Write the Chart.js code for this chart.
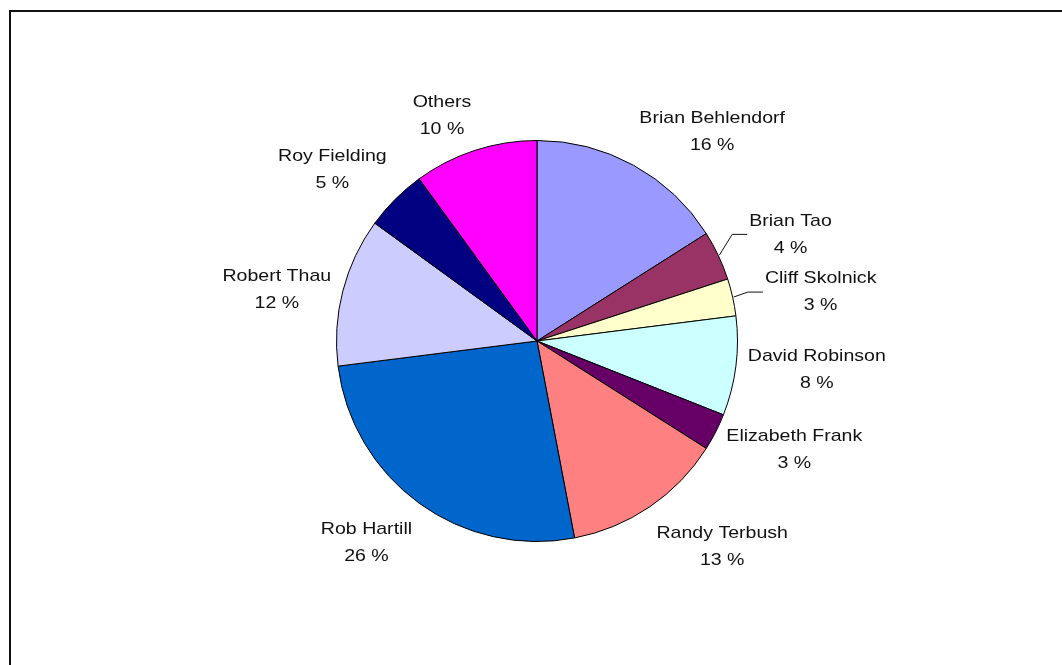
<!DOCTYPE html>
<html>
<head>
<meta charset="utf-8">
<title>Contributors</title>
<script src="https://cdn.jsdelivr.net/npm/chart.js@4/dist/chart.umd.min.js"></script>
<style>
  html, body { margin: 0; padding: 0; background: #fff; }
  #wrap { width: 1062px; height: 665px; }
</style>
</head>
<body>
<div id="wrap"><canvas id="pie" width="1062" height="665"></canvas></div>
<script>
// Share of contributions per person, in percent (clockwise from 12 o'clock)
const names = [
  'Brian Behlendorf', 'Brian Tao', 'Cliff Skolnick', 'David Robinson',
  'Elizabeth Frank', 'Randy Terbush', 'Rob Hartill', 'Robert Thau',
  'Roy Fielding', 'Others'
];
const shares = [16, 4, 3, 8, 3, 13, 26, 12, 5, 10];
const sliceColors = [
  '#9999FF', '#993366', '#FFFFCC', '#CCFFFF', '#660066',
  '#FF8080', '#0066CC', '#CCCCFF', '#000080', '#FF00FF'
];
// Labels that sit further out with a leader line (extra push in px)
const calloutPush = { 'Brian Tao': 22, 'Cliff Skolnick': 21 };

const FONT = '17px "Liberation Sans", Arial, sans-serif';
const STRETCH = 1.15;   // horizontal widening of the label type
const LINE_GAP = 27;

// Outer frame around the chart
const framePlugin = {
  id: 'frame',
  beforeDraw(chart) {
    const ctx = chart.ctx;
    ctx.save();
    ctx.fillStyle = '#fff';
    ctx.fillRect(0, 0, chart.width, chart.height);
    ctx.strokeStyle = '#111';
    ctx.lineWidth = 2;
    ctx.strokeRect(10, 11, chart.width + 10, chart.height + 10);
    ctx.restore();
  }
};

// Name + percentage labels outside each slice
const outsideLabels = {
  id: 'outsideLabels',
  afterDatasetsDraw(chart) {
    const ctx = chart.ctx;
    const meta = chart.getDatasetMeta(0);
    const values = chart.data.datasets[0].data;
    ctx.save();
    ctx.font = FONT;
    ctx.fillStyle = '#111';
    ctx.textAlign = 'center';
    ctx.textBaseline = 'middle';
    meta.data.forEach((arc, i) => {
      const p = arc.getProps(['x', 'y', 'startAngle', 'endAngle', 'outerRadius'], true);
      const mid = (p.startAngle + p.endAngle) / 2;
      const dx = Math.cos(mid), dy = Math.sin(mid);
      const name = chart.data.labels[i];
      const pct = values[i] + ' %';
      const w = Math.max(ctx.measureText(name).width, ctx.measureText(pct).width) * STRETCH;
      const h = 50;
      const push = calloutPush[name] || 0;
      const R = p.outerRadius + 12 + push;
      const ax = Math.sign(dx);
      const lift = Math.max(0, (Math.abs(dy) - 0.25) * 2);
      const ay = Math.sign(dy) * Math.min(dy > 0 ? 1.12 : 1, lift);
      const cx = p.x + R * dx + ax * w / 2;
      const cy = p.y + R * dy + ay * h / 2 + 2;

      if (push) {
        // leader line: slice edge -> elbow -> label side
        const sx = p.x + (p.outerRadius + 1) * dx;
        const sy = p.y + (p.outerRadius + 1) * dy;
        const ex = cx - ax * (w / 2 + 2);
        const ey = cy;
        const kx = ex - ax * 15;
        ctx.beginPath();
        ctx.strokeStyle = '#111';
        ctx.lineWidth = 1;
        ctx.moveTo(sx, sy);
        ctx.lineTo(kx, ey);
        ctx.lineTo(ex, ey);
        ctx.stroke();
      }

      const lines = [name, pct];
      lines.forEach((t, k) => {
        const ty = cy + (k - 0.5) * LINE_GAP;
        ctx.save();
        ctx.translate(cx, ty);
        ctx.scale(STRETCH, 1);
        ctx.fillText(t, 0, 0);
        ctx.restore();
      });
    });
    ctx.restore();
  }
};

new Chart(document.getElementById('pie'), {
  type: 'pie',
  data: {
    labels: names,
    datasets: [{
      data: shares,
      backgroundColor: sliceColors,
      borderColor: '#000',
      borderWidth: 1
    }]
  },
  options: {
    responsive: false,
    animation: false,
    layout: { padding: { top: 140, bottom: 123, left: 136, right: 124 } },
    plugins: {
      legend: { display: false },
      tooltip: { enabled: false }
    }
  },
  plugins: [framePlugin, outsideLabels]
});
</script>
</body>
</html>
